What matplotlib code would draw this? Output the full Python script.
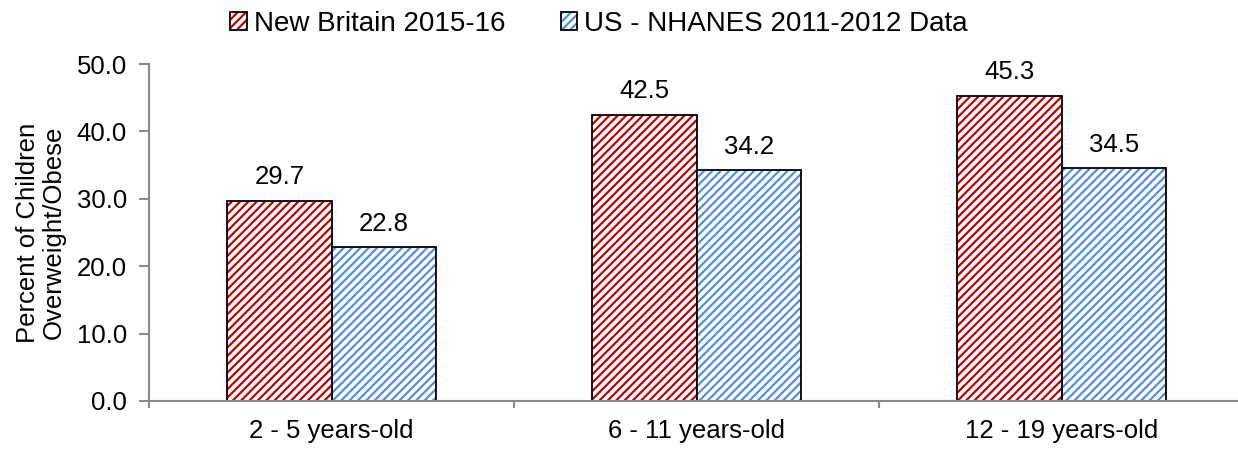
import numpy as np
import matplotlib.pyplot as plt
from matplotlib.patches import Patch

plt.rcParams['font.family'] = ['Liberation Sans', 'DejaVu Sans']
plt.rcParams['hatch.linewidth'] = 1.6

groups = ['2 - 5 years-old', '6 - 11 years-old', '12 - 19 years-old']
series = ['New Britain 2015-16', 'US - NHANES 2011-2012 Data']
new_britain = [29.7, 42.5, 45.3]
us_nhanes = [22.8, 34.2, 34.5]
colors = ['#C00000', '#558ED5']

fs = 18.5
fig = plt.figure(figsize=(12.38, 4.49), dpi=100)
ax = fig.add_axes([149 / 1238, 48 / 449, 1095 / 1238, 337 / 449])

x = np.arange(len(groups))
w = 1 / 3.5
for k, (vals, col) in enumerate(zip([new_britain, us_nhanes], colors)):
    pos = x + (k - 0.5) * w
    # hatched fill first, then a plain black outline on top
    ax.bar(pos, vals, w, color='white', edgecolor=col, hatch='////', linewidth=0)
    ax.bar(pos, vals, w, fill=False, edgecolor='black', linewidth=1.3)
    for xi, v in zip(pos, vals):
        ax.annotate(f'{v:.1f}', (xi, v), xytext=(0, 8.5), textcoords='offset points',
                    ha='center', va='bottom', fontsize=fs)

ax.set_xlim(-0.5, 2.5)
ax.set_ylim(0, 50)
ax.set_yticks(np.arange(0, 51, 10))
ax.set_yticklabels([f'{v:.1f}' for v in np.arange(0, 51, 10)])
ax.set_xticks([-0.5, 0.5, 1.5, 2.5])
ax.set_xticklabels([])
ax.set_xticks(x, minor=True)
ax.set_xticklabels(groups, minor=True)

for s in ['top', 'right']:
    ax.spines[s].set_visible(False)
for s in ['left', 'bottom']:
    ax.spines[s].set_color('#898989')
    ax.spines[s].set_linewidth(1.5)
ax.tick_params(axis='y', length=7, width=1.5, color='#898989', labelsize=fs, pad=9)
ax.tick_params(axis='x', which='major', length=5, width=1.5, color='#898989')
ax.tick_params(axis='x', which='minor', length=0, labelsize=fs, pad=13)
ax.set_ylabel('Percent of Children\nOverweight/Obese', fontsize=fs, linespacing=1.05, labelpad=8)

handles = []
for col in colors:
    handles.append((Patch(facecolor='white', edgecolor=col, hatch='////', linewidth=0),
                    Patch(fill=False, edgecolor='black', linewidth=1.3)))
fig.legend(handles, series, loc='center', bbox_to_anchor=(599 / 1238, 1 - 24 / 449),
           ncol=2, frameon=False, fontsize=20, handlelength=0.6, handleheight=0.6,
           handletextpad=0.25, columnspacing=2.0)

fig.savefig('out.png', dpi=100)
